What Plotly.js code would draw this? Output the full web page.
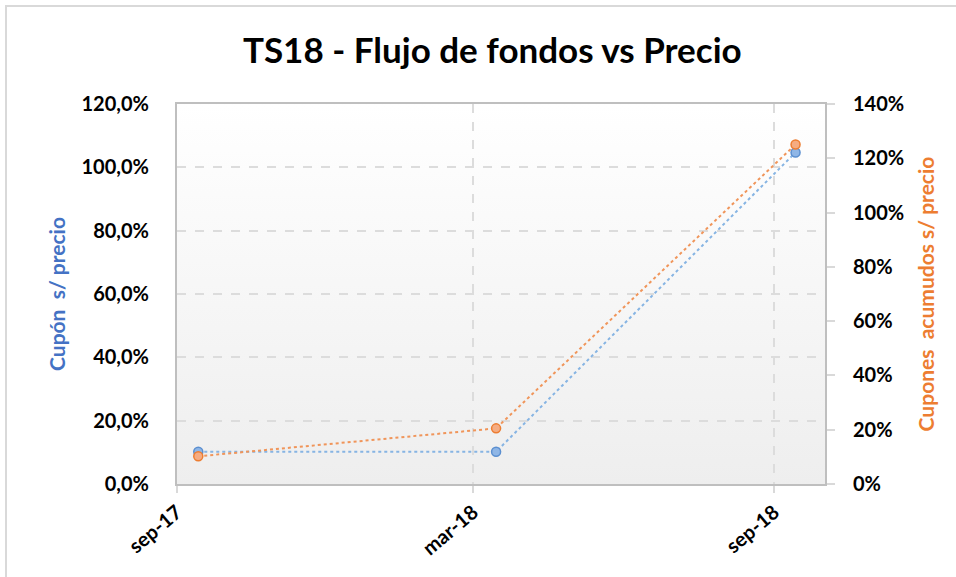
<!DOCTYPE html>
<html>
<head>
<meta charset="utf-8">
<script src="https://cdn.plot.ly/plotly-3.0.1.min.js"></script>
<style>
  html, body { margin:0; padding:0; background:#fff; overflow:hidden; }
  #chart { width:956px; height:577px; position:absolute; left:0; top:0; }
  #frame { position:absolute; left:5px; top:5px; width:970px; height:590px; border:2px solid #d9d9d9; pointer-events:none; }
</style>
</head>
<body>
<div id="chart"></div>
<div id="frame"></div>
<script>
// Data
const fechas = ['2017-09-14', '2018-03-15', '2018-09-14'];
const cuponSobrePrecio = [0.102, 0.102, 1.047];
const cuponesAcumulados = [0.102, 0.205, 1.251];
const xTickVals = ['2017-09-01', '2018-03-01', '2018-09-01'];
const xTickText = ['sep-17', 'mar-18', 'sep-18'];
const yTickVals = [0, 0.2, 0.4, 0.6, 0.8, 1.0, 1.2];
const y2TickVals = [0, 0.2, 0.4, 0.6, 0.8, 1.0, 1.2, 1.4];

const FONT = 'Lato, "Open Sans", "DejaVu Sans", sans-serif';
const tickFont = {family: FONT, size: 20, color: '#000', weight: 700};

const gradSvg = "<svg xmlns='http://www.w3.org/2000/svg' width='100' height='100' preserveAspectRatio='none'>" +
  "<defs><linearGradient id='g' x1='0' y1='0' x2='0' y2='1'>" +
  "<stop offset='0' stop-color='#ffffff'/><stop offset='1' stop-color='#eeeeee'/>" +
  "</linearGradient></defs><rect width='100' height='100' fill='url(#g)'/></svg>";

const traces = [
  {
    x: fechas, y: cuponSobrePrecio, type: 'scatter', mode: 'lines+markers',
    name: 'Cupón s/ precio', yaxis: 'y',
    line: {color: '#86b4e3', width: 2, dash: 'dot'},
    marker: {size: 9, color: '#8fb6e6', line: {color: '#5b8fd0', width: 1.5}},
    hoverinfo: 'x+y'
  },
  {
    x: fechas, y: cuponesAcumulados, type: 'scatter', mode: 'lines+markers',
    name: 'Cupones acumulados s/ precio', yaxis: 'y2',
    line: {color: '#f0955a', width: 2, dash: 'dot'},
    marker: {size: 9, color: '#f5ac82', line: {color: '#ed7d31', width: 1.5}},
    hoverinfo: 'x+y'
  }
];

const layout = {
  width: 956, height: 577,
  margin: {l: 177, r: 131, t: 104, b: 93},
  paper_bgcolor: '#ffffff',
  plot_bgcolor: 'rgba(0,0,0,0)',
  separators: ',.',
  showlegend: false,
  title: {
    text: 'TS18 - Flujo de fondos vs Precio',
    font: {family: FONT, size: 35, color: '#000', weight: 700},
    x: 0.515, xanchor: 'center', y: 0.912, yanchor: 'middle'
  },
  images: [{
    source: 'data:image/svg+xml;utf8,' + encodeURIComponent(gradSvg),
    xref: 'paper', yref: 'paper', x: 0, y: 1, sizex: 1, sizey: 1,
    sizing: 'stretch', layer: 'below', xanchor: 'left', yanchor: 'top'
  }],
  xaxis: {
    type: 'date',
    range: ['2017-09-01', '2018-10-02'],
    tickmode: 'array', tickvals: xTickVals, ticktext: xTickText,
    tickangle: -40, tickfont: tickFont,
    ticks: 'outside', ticklen: 7, tickwidth: 2, tickcolor: '#d9d9d9',
    showgrid: true, gridcolor: '#dcdcdc', gridwidth: 2, griddash: 'dash',
    showline: true, linecolor: '#bfbfbf', linewidth: 2, mirror: true,
    zeroline: false, fixedrange: true
  },
  yaxis: {
    range: [0, 1.2],
    tickmode: 'array', tickvals: yTickVals, tickformat: '.1%',
    tickfont: tickFont, ticks: '', ticklabelstandoff: 22,
    showgrid: true, gridcolor: '#dcdcdc', gridwidth: 2, griddash: 'dash',
    showline: true, linecolor: '#bfbfbf', linewidth: 2,
    zeroline: false, automargin: true,
    title: {text: 'Cupón\u00a0 s/ precio', font: {family: FONT, size: 21, color: '#4472c4', weight: 700}, standoff: 10}
  },
  yaxis2: {
    overlaying: 'y', side: 'right',
    range: [0, 1.4],
    tickmode: 'array', tickvals: y2TickVals, tickformat: '.0%',
    tickfont: tickFont, ticks: 'outside', ticklen: 8, tickwidth: 2, tickcolor: '#d9d9d9',
    ticklabelstandoff: 14,
    showgrid: false,
    showline: true, linecolor: '#bfbfbf', linewidth: 2,
    zeroline: false, automargin: true,
    title: {text: 'Cupones\u00a0 acumudos s/ precio', font: {family: FONT, size: 21, color: '#ed7d31', weight: 700}, standoff: 16}
  }
};

Plotly.newPlot('chart', traces, layout, {displayModeBar: false, staticPlot: true});
</script>
</body>
</html>
